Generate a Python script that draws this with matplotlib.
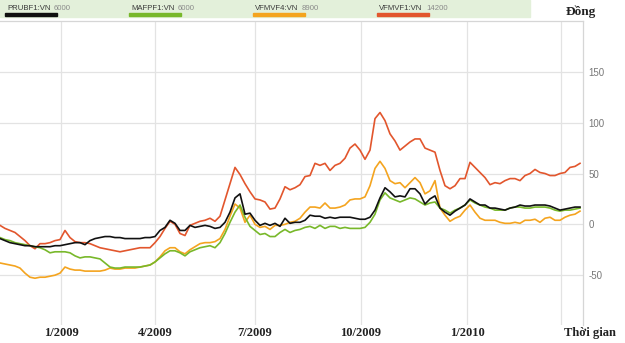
import matplotlib
matplotlib.use("Agg")
import matplotlib.pyplot as plt
import numpy as np

# fund values, one sample every ~5 trading days (Nov 2008 - Apr 2010)
vfmvf1 = [-1, -4, -6, -8, -12, -16, -21, -24, -19, -19, -18, -16, -15, -6, -13, -17, -18, -18, -19, -21,
          -23, -24, -25, -26, -27, -26, -25, -24, -23, -23, -23, -18, -12, -4, 3, 0, -9, -11, -1, 1,
          3, 4, 6, 3, 8, 24, 40, 56, 49, 40, 32, 25, 24, 22, 15, 16, 25, 37, 34, 36,
          39, 47, 48, 60, 58, 60, 53, 58, 60, 65, 75, 79, 73, 64, 73, 104, 110, 102, 89, 82,
          73, 77, 81, 84, 84, 75, 73, 71, 53, 38, 35, 38, 45, 45, 61, 56, 51, 46, 39, 41,
          40, 43, 45, 45, 43, 48, 50, 54, 51, 50, 48, 48, 50, 51, 56, 57, 60]
prubf1 = [-14, -16, -18, -19, -20, -21, -21, -22, -22, -22, -22, -21, -21, -20, -19, -18, -18, -20, -16, -14,
          -13, -12, -12, -13, -13, -14, -14, -14, -14, -13, -13, -12, -6, -3, 4, 1, -6, -6, -1, -3,
          -2, -1, -2, -4, -3, 2, 12, 26, 30, 10, 11, 4, -1, 1, -1, 1, -2, 6, 1, 2,
          2, 4, 9, 8, 8, 6, 7, 6, 7, 7, 7, 6, 5, 5, 7, 14, 26, 36, 32, 27,
          28, 27, 35, 35, 30, 20, 25, 28, 16, 12, 9, 13, 16, 19, 25, 22, 19, 19, 16, 16,
          15, 14, 16, 17, 19, 18, 18, 19, 19, 19, 18, 16, 14, 15, 16, 17, 17]
mafpf1 = [-13, -15, -16, -18, -19, -20, -21, -22, -23, -25, -28, -27, -27, -27, -28, -31, -33, -32, -32, -33,
          -34, -38, -42, -43, -43, -42, -42, -42, -42, -41, -40, -37, -33, -29, -26, -26, -28, -31, -27, -25,
          -23, -22, -21, -23, -18, -9, 2, 12, 19, 7, -2, -6, -10, -9, -12, -12, -8, -5, -8, -6,
          -5, -3, -2, -4, -1, -4, -2, -2, -4, -3, -4, -4, -4, -3, 2, 10, 24, 31, 26, 24,
          22, 24, 26, 25, 22, 19, 21, 22, 16, 14, 11, 14, 16, 19, 24, 21, 19, 17, 16, 14,
          14, 14, 16, 17, 17, 16, 16, 17, 17, 17, 16, 14, 13, 14, 14, 15, 16]
vfmvf4 = [-38, -39, -40, -41, -43, -48, -52, -53, -52, -52, -51, -50, -48, -42, -44, -45, -45, -46, -46, -46,
          -46, -45, -43, -44, -44, -43, -43, -43, -42, -41, -40, -37, -32, -26, -23, -23, -27, -29, -25, -22,
          -19, -18, -18, -17, -14, -5, 8, 20, 16, 2, 9, 0, -3, -2, -5, -1, -1, 0, 2, 3,
          6, 12, 17, 17, 16, 21, 16, 16, 17, 19, 24, 25, 25, 27, 38, 55, 62, 55, 43, 40,
          41, 36, 41, 46, 41, 30, 33, 43, 16, 9, 3, 6, 8, 14, 19, 12, 6, 4, 4, 4,
          2, 1, 1, 2, 1, 4, 4, 5, 2, 6, 7, 4, 4, 7, 9, 10, 13]

funds = [("PRUBF1:VN", "6000", "#111111", prubf1),
         ("MAFPF1:VN", "6000", "#78b82a", mafpf1),
         ("VFMVF4:VN", "8900", "#f4a41f", vfmvf4),
         ("VFMVF1:VN", "14200", "#e2562d", vfmvf1)]

xtick_pos = [12.2, 31, 51, 72.2, 93.4, 112.2]
xtick_lab = ["1/2009", "4/2009", "7/2009", "10/2009", "1/2010", ""]
yticks = [-50, 0, 50, 100, 150]

fig = plt.figure(figsize=(6.25, 3.43), dpi=100)
ax = fig.add_axes([0, 1 - 325 / 343, 583 / 625, (325 - 21) / 343])

# draw red, orange, green, then black on top
for name, price, col, vals in [funds[3], funds[2], funds[1], funds[0]]:
    ax.plot(np.arange(len(vals)), vals, color=col, lw=1.2, solid_joinstyle="round")

ax.set_xlim(0, 116.6)
ax.set_ylim(-99, 200)
ax.set_xticks(xtick_pos)
ax.set_xticklabels(xtick_lab, family="Liberation Serif", fontweight="bold", fontsize=9, color="#222222")
ax.set_yticks(yticks)
ax.set_yticklabels([str(v) for v in yticks], family="Liberation Sans", fontsize=7, color="#777777")
ax.yaxis.tick_right()
ax.tick_params(axis="x", length=0, pad=1.5)
ax.tick_params(axis="y", length=0, pad=4)
ax.grid(True, color="#e3e3e3", lw=0.9)
ax.set_axisbelow(True)
for s in ["left", "bottom"]:
    ax.spines[s].set_visible(False)
for s in ["top", "right"]:
    ax.spines[s].set_color("#d6d6d6")
    ax.spines[s].set_linewidth(0.9)

# legend bar on top
fig.patches.append(plt.Rectangle((0, 1 - 17 / 343), 530 / 625, 17 / 343, transform=fig.transFigure,
                                 color="#e3f0da", zorder=0))
starts = [5, 129, 253, 377]
for (name, price, col, vals), x0 in zip(funds, starts):
    fig.text((x0 + 2) / 625, 1 - 9 / 343, name, family="Liberation Sans", fontsize=5.6,
             color="#3a3a3a", va="center", ha="left")
    fig.text((x0 + 49) / 625, 1 - 9 / 343, price, family="Liberation Sans", fontsize=5.6,
             color="#8a8a8a", va="center", ha="left")
    fig.patches.append(plt.Rectangle((x0 / 625, 1 - 15.5 / 343), 52 / 625, 2.2 / 343,
                                     transform=fig.transFigure, color=col, zorder=2))

fig.text(581 / 625, 1 - 12 / 343, "Đồng", family="Liberation Serif", fontweight="bold",
         fontsize=9.5, ha="center", va="center", color="#222222")
fig.text(590 / 625, 1 - 333 / 343, "Thời gian", family="Liberation Serif", fontweight="bold",
         fontsize=9, ha="center", va="center", color="#222222")

fig.savefig("out.png", dpi=100)
